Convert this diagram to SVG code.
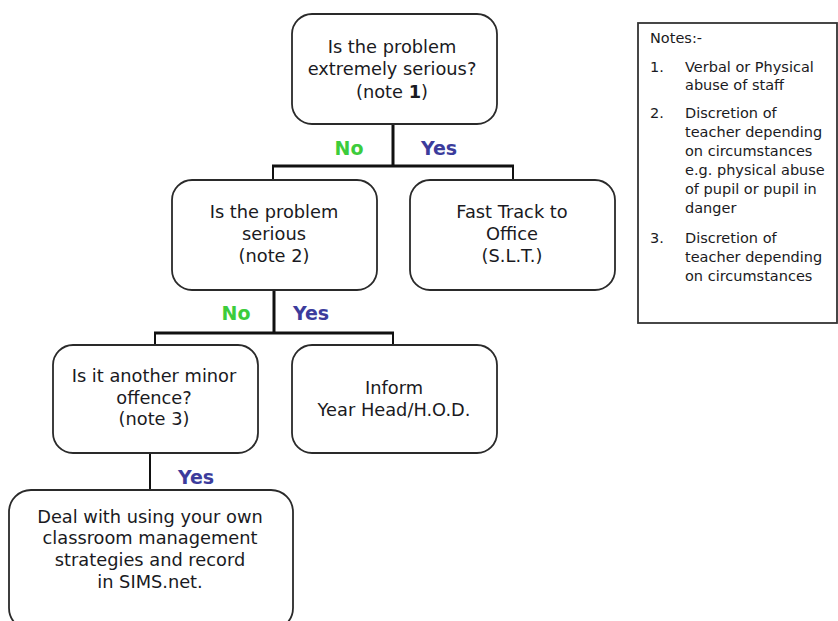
<svg xmlns="http://www.w3.org/2000/svg" width="838" height="621" viewBox="0 0 838 621">
<style>
.box{fill:#fff;stroke:#2a2a2a;stroke-width:1.8}
.t{font-family:"DejaVu Sans","Liberation Sans",sans-serif;font-size:17.8px;fill:#1a1a22;text-anchor:middle}
.no{font-family:"DejaVu Sans","Liberation Sans",sans-serif;font-size:19px;font-weight:bold;fill:#3ccc3c;text-anchor:middle}
.yes{font-family:"DejaVu Sans","Liberation Sans",sans-serif;font-size:19px;font-weight:bold;fill:#3c3c9c;text-anchor:middle}
.n{font-family:"DejaVu Sans","Liberation Sans",sans-serif;font-size:14.5px;fill:#1a1a22}
.c{fill:none;stroke:#111;stroke-width:3}
.c2{fill:none;stroke:#111;stroke-width:2}
</style>
<rect width="838" height="621" fill="#fff"/>
<g id="connectors">
<path class="c" d="M393,124 V166 M272,166 H514"/>
<path class="c2" d="M273,166 V181 M513,166 V181"/>
<path class="c" d="M274,290 V333 M154,333 H394"/>
<path class="c2" d="M155,333 V345 M393,333 V345"/>
<path class="c2" d="M150,453 V491"/>
</g>
<g id="labels">
<text class="no" x="349" y="155">No</text>
<text class="yes" x="439" y="155">Yes</text>
<text class="no" x="236" y="320">No</text>
<text class="yes" x="311" y="320">Yes</text>
<text class="yes" x="196" y="484">Yes</text>
</g>
<g id="q1">
<rect class="box" x="292" y="14" width="205" height="110" rx="20"/>
<text class="t" x="392" y="53">Is the problem</text>
<text class="t" x="392" y="75">extremely serious?</text>
<text class="t" x="392" y="98">(note <tspan font-weight="bold">1</tspan>)</text>
</g>
<g id="q2">
<rect class="box" x="172" y="180" width="205" height="110" rx="20"/>
<text class="t" x="274" y="218">Is the problem</text>
<text class="t" x="274" y="240">serious</text>
<text class="t" x="274" y="262">(note 2)</text>
</g>
<g id="fasttrack">
<rect class="box" x="410" y="180" width="205" height="110" rx="20"/>
<text class="t" x="512" y="218">Fast Track to</text>
<text class="t" x="512" y="240">Office</text>
<text class="t" x="512" y="262">(S.L.T.)</text>
</g>
<g id="q3">
<rect class="box" x="53" y="345" width="205" height="108" rx="20"/>
<text class="t" x="154" y="382">Is it another minor</text>
<text class="t" x="154" y="404">offence?</text>
<text class="t" x="154" y="425">(note 3)</text>
</g>
<g id="inform">
<rect class="box" x="292" y="345" width="205" height="108" rx="20"/>
<text class="t" x="394" y="394">Inform</text>
<text class="t" x="394" y="416">Year Head/H.O.D.</text>
</g>
<g id="deal">
<rect class="box" x="9" y="490" width="284" height="140" rx="22"/>
<text class="t" x="150" y="523">Deal with using your own</text>
<text class="t" x="150" y="544">classroom management</text>
<text class="t" x="150" y="566">strategies and record</text>
<text class="t" x="150" y="588">in SIMS.net.</text>
</g>
<g id="notes">
<rect x="638" y="23" width="199" height="300" fill="#fff" stroke="#333" stroke-width="1.8"/>
<text class="n" x="650" y="43">Notes:-</text>
<text class="n" x="650" y="72">1.</text>
<text class="n" x="685" y="72">Verbal or Physical</text>
<text class="n" x="685" y="90">abuse of staff</text>
<text class="n" x="650" y="118">2.</text>
<text class="n" x="685" y="118">Discretion of</text>
<text class="n" x="685" y="137">teacher depending</text>
<text class="n" x="685" y="156">on circumstances</text>
<text class="n" x="685" y="175">e.g. physical abuse</text>
<text class="n" x="685" y="194">of pupil or pupil in</text>
<text class="n" x="685" y="213">danger</text>
<text class="n" x="650" y="243">3.</text>
<text class="n" x="685" y="243">Discretion of</text>
<text class="n" x="685" y="262">teacher depending</text>
<text class="n" x="685" y="281">on circumstances</text>
</g>
</svg>
